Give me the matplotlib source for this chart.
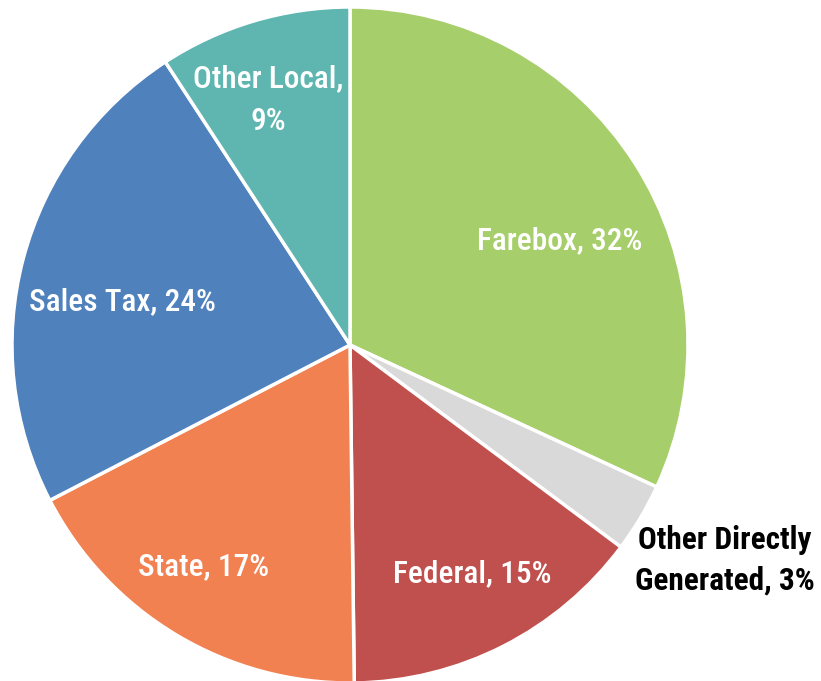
import matplotlib
matplotlib.use('Agg')
import matplotlib.pyplot as plt
from matplotlib import font_manager

# Revenue shares (clockwise from 12 o'clock)
categories = ['Farebox', 'Other Directly\nGenerated', 'Federal', 'State', 'Sales Tax', 'Other Local']
shares = [31.9, 3.3, 14.6, 17.6, 23.4, 9.2]
label_pcts = ['32%', '3%', '15%', '17%', '24%', '9%']
colors = ['#A6CE6A', '#D9D9D9', '#C0504D', '#F28152', '#4F81BD', '#5FB6B0']

names = {f.name for f in font_manager.fontManager.ttflist}
prefs = ['Roboto Condensed', 'Liberation Sans Narrow', 'Archivo Narrow', 'Barlow Semi Condensed']
family = [f for f in prefs if f in names][:1] + ['DejaVu Sans']

fig = plt.figure(figsize=(8.21, 6.81), dpi=100)
ax = fig.add_axes([0, 0, 1, 1])

wedges, _ = ax.pie(shares, colors=colors, startangle=90, counterclock=False,
                   center=(350, 336), radius=338,
                   wedgeprops=dict(edgecolor='white', linewidth=2.5))
ax.set_aspect('equal')
ax.set_xlim(0, 821)
ax.set_ylim(0, 681)
ax.axis('off')

# label placements (pixel coords, y from bottom)
label_pos = [(560, 440), (725, 121), (472, 107), (204, 114), (122, 379), (268, 581)]
for name, pct, (x, y), i in zip(categories, label_pcts, label_pos, range(6)):
    if name == 'Other Local':
        txt = f'{name},\n{pct}'
    else:
        txt = f'{name}, {pct}'
    col = 'black' if i == 1 else 'white'
    ax.text(x, y, txt, ha='center', va='center', fontsize=22.5, color=col,
            family=family, weight='bold' if i == 1 else 'medium',
            linespacing=1.45 if i == 1 else 1.6)

fig.savefig('out.png', dpi=100)
